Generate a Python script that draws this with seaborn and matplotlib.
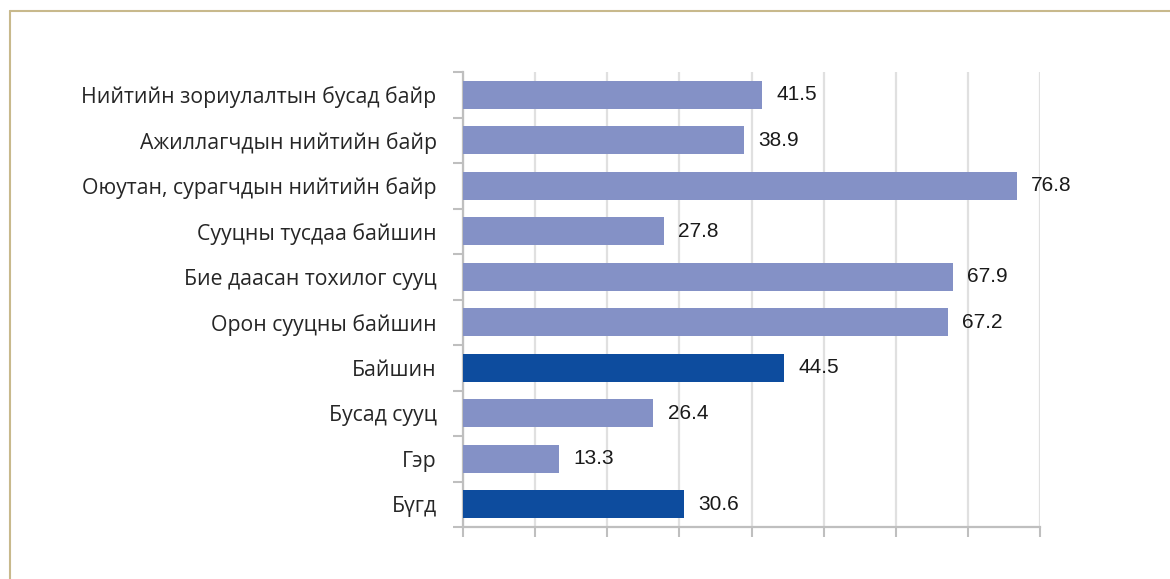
import matplotlib
matplotlib.use("Agg")
import matplotlib.pyplot as plt
import seaborn as sns
import pandas as pd
from matplotlib.lines import Line2D

categories = [
    "Нийтийн зориулалтын бусад байр",
    "Ажиллагчдын нийтийн байр",
    "Оюутан, сурагчдын нийтийн байр",
    "Сууцны тусдаа байшин",
    "Бие даасан тохилог сууц",
    "Орон сууцны байшин",
    "Байшин",
    "Бусад сууц",
    "Гэр",
    "Бүгд",
]
values = [41.5, 38.9, 76.8, 27.8, 67.9, 67.2, 44.5, 26.4, 13.3, 30.6]
highlight = ["Байшин", "Бүгд"]

LIGHT = "#8491c6"
DARK = "#0d4c9e"

df = pd.DataFrame({"category": categories, "value": values})
df["group"] = ["main" if c in highlight else "other" for c in categories]

sns.set_theme(style="white")
plt.rcParams["font.family"] = ["Open Sans", "DejaVu Sans"]

fig = plt.figure(figsize=(11.7, 5.79), dpi=100)
ax = fig.add_axes([463 / 1170, 1 - 527 / 579, 577 / 1170, 455 / 579])

sns.barplot(data=df, y="category", x="value", hue="group",
            palette={"main": DARK, "other": LIGHT}, order=categories,
            orient="h", width=0.62, dodge=False, legend=False, ax=ax,
            saturation=1, linewidth=0, zorder=3)

ax.set_xlim(0, 80)
ax.set_ylim(len(categories) - 0.5, -0.5)
ax.set_xticks(range(0, 81, 10))
ax.set_xticklabels([])
ax.set_xlabel("")
ax.set_ylabel("")
ax.grid(axis="x", color="#e0e0e0", linewidth=1.6, zorder=0)

# category separators on the value axis
ax.set_yticks([i - 0.5 for i in range(len(categories) + 1)], minor=True)
ax.set_yticks(range(len(categories)))
ax.set_yticklabels(categories, fontsize=15.3, color="#262626")
ax.tick_params(axis="y", which="major", left=False, length=0, pad=19)
ax.tick_params(axis="y", which="minor", left=True, length=7, width=1.5,
               color="#bfbfbf")
ax.tick_params(axis="x", which="major", bottom=True, length=7, width=1.5,
               color="#bfbfbf", direction="out")

for side in ["top", "right"]:
    ax.spines[side].set_visible(False)
for side in ["left", "bottom"]:
    ax.spines[side].set_color("#bfbfbf")
    ax.spines[side].set_linewidth(1.6)

for i, v in enumerate(values):
    ax.text(v + 2.0, i, f"{v:.1f}", va="center", ha="left",
            fontsize=15, color="#1a1a1a", family="Liberation Sans")

# outer frame along the left and top edges
fig.add_artist(Line2D([10 / 1170, 10 / 1170], [0, 1 - 11 / 579],
                      transform=fig.transFigure, color="#c8b98c", linewidth=1.5))
fig.add_artist(Line2D([10 / 1170, 1], [1 - 11 / 579, 1 - 11 / 579],
                      transform=fig.transFigure, color="#c8b98c", linewidth=1.5))

fig.savefig("out.png", dpi=100, facecolor="white")
